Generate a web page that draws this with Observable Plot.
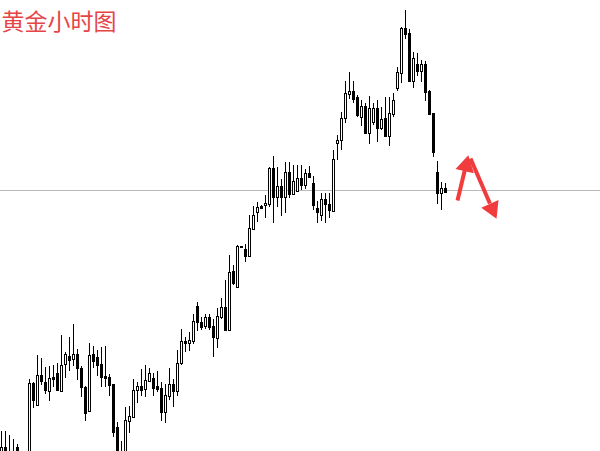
<!DOCTYPE html>
<html><head><meta charset="utf-8">
<script src="https://cdn.jsdelivr.net/npm/d3@7"></script>
<script src="https://cdn.jsdelivr.net/npm/@observablehq/plot@0.6"></script>
<style>body{margin:0;background:#fff;}</style>
</head><body><div id="chart"></div><script>
const title = "黄金小时图";
const open  = [2048,2053,2045,2040,2053,2040,2025,2030,2117,2095,2125,2118,2109,2123,2127,2109,2136,2144,2141,2146,2132,2113,2089,2146,2143,2136,2124,2123,2116,2073,2040,2038,2079,2083,2110,2114,2111,2119,2122,2114,2112,2088,2104,2116,2109,2137,2159,2157,2159,2194,2178,2174,2183,2174,2162,2183,2193,2170,2229,2213,2254,2251,2244,2271,2288,2294,2295,2296,2332,2303,2314,2303,2328,2306,2309,2322,2315,2327,2317,2292,2285,2301,2296,2289,2357,2360,2382,2406,2409,2403,2383,2394,2367,2378,2392,2372,2382,2364,2386,2412,2427,2472,2467,2419,2436,2429,2436,2409,2387,2328,2307,2312];
const high  = [2069,2069,2065,2061,2056,2045,2042,2121,2118,2145,2142,2133,2134,2135,2137,2165,2148,2163,2176,2151,2134,2114,2157,2154,2150,2153,2154,2126,2116,2078,2059,2093,2094,2121,2118,2131,2135,2132,2127,2129,2118,2116,2132,2121,2150,2171,2163,2168,2186,2198,2183,2186,2186,2181,2192,2202,2220,2245,2235,2255,2254,2256,2285,2294,2298,2295,2305,2333,2344,2333,2321,2338,2338,2335,2335,2335,2331,2334,2324,2299,2307,2307,2307,2350,2365,2388,2419,2428,2419,2405,2400,2397,2404,2397,2400,2393,2403,2403,2407,2433,2473,2490,2471,2448,2447,2440,2439,2410,2387,2339,2318,2317];
const low   = [2040,2035,2030,2025,2038,2020,2010,2020,2092,2094,2115,2106,2099,2113,2109,2108,2122,2129,2134,2120,2103,2079,2088,2132,2124,2113,2113,2104,2063,2038,2030,2030,2067,2082,2097,2104,2103,2118,2104,2108,2079,2077,2100,2093,2104,2135,2148,2149,2156,2169,2170,2171,2170,2143,2152,2181,2170,2169,2215,2213,2253,2238,2243,2270,2278,2292,2282,2293,2277,2293,2284,2287,2302,2305,2308,2310,2311,2323,2290,2277,2279,2277,2282,2289,2340,2350,2377,2401,2397,2383,2374,2367,2356,2375,2358,2370,2364,2354,2383,2409,2417,2461,2418,2412,2424,2418,2399,2385,2343,2296,2290,2307];
const close = [2053,2045,2040,2042,2045,2030,2032,2117,2100,2125,2119,2110,2122,2121,2110,2135,2146,2140,2146,2132,2113,2087,2145,2139,2135,2123,2122,2115,2068,2045,2045,2080,2084,2110,2114,2110,2120,2127,2112,2111,2088,2105,2116,2109,2137,2159,2157,2160,2179,2178,2173,2183,2173,2163,2184,2193,2170,2228,2217,2254,2253,2244,2272,2285,2293,2292,2297,2332,2303,2314,2303,2328,2306,2319,2322,2315,2327,2323,2295,2288,2301,2296,2290,2341,2360,2382,2407,2409,2401,2385,2394,2367,2392,2392,2372,2381,2364,2387,2400,2428,2472,2466,2419,2442,2429,2436,2408,2386,2348,2307,2312,2308];
const refLine = [2310];
// annotation arrows: shaft tail / shaft end / head centre / head direction (deg)
const arrowX1 = [114.0, 117.25];
const arrowY1 = [2300, 2342];
const arrowX2 = [115.8, 122.1];
const arrowY2 = [2330, 2297];
const headX = [116.1, 122.65];
const headY = [2334.6, 2291.7];
const headAngle = [13, 156];

const candles = open.map((o, i) => ({i, o, h: high[i], l: low[i], c: close[i]}));
const shafts = arrowX1.map((x, i) => ({x1: x, y1: arrowY1[i], x2: arrowX2[i], y2: arrowY2[i]}));
const heads = headX.map((x, i) => ({x, y: headY[i], a: headAngle[i]}));

const chart = Plot.plot({
  width: 600, height: 451, margin: 0,
  style: {background: "#fff"},
  x: {type: "linear", domain: [-0.25, 149.75], axis: null},
  y: {domain: [2049, 2500], axis: null},
  color: {type: "identity"},
  marks: [
    Plot.ruleY(refLine, {stroke: "#b8b8b8", strokeWidth: 1}),
    Plot.ruleX(candles, {x: "i", y1: "l", y2: "h", stroke: "#000", strokeWidth: 1, clip: true}),
    Plot.rect(candles, {x1: d => d.i - 0.25, x2: d => d.i + 0.25, y1: "o", y2: "c", dx: 0.5, dy: 0.5,
      fill: d => d.c > d.o ? "#fff" : "#000", stroke: "#000", strokeWidth: 1, clip: true}),
    Plot.link(shafts, {x1: "x1", y1: "y1", x2: "x2", y2: "y2", stroke: "#f03c3c", strokeWidth: 4}),
    Plot.dot(heads, {x: "x", y: "y", rotate: "a", symbol: "triangle", r: 7, fill: "#f03c3c", stroke: "none"}),
    Plot.text([title], {frameAnchor: "top-left", dx: 1, dy: 13, lineAnchor: "top", fontSize: 23,
      fill: "#e64547", fontFamily: "Noto Sans CJK SC"})
  ]
});
document.getElementById("chart").appendChild(chart);
</script></body></html>
